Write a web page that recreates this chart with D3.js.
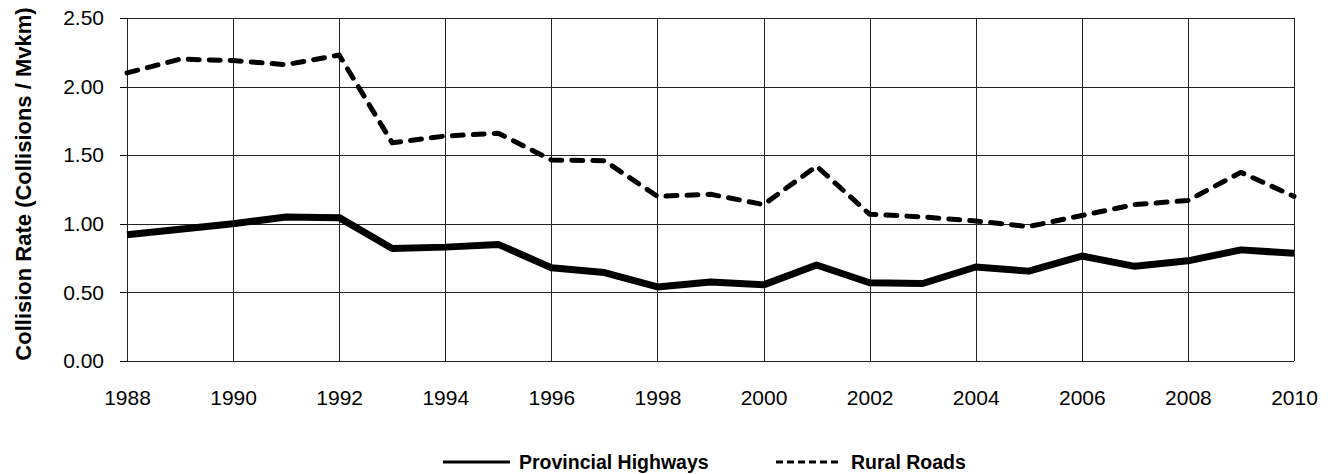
<!DOCTYPE html>
<meta charset="utf-8">
<head>
<title>Collision Rate</title>
<script src="https://d3js.org/d3.v7.min.js"></script>
</head>
<style>
  body { margin: 0; background: #fff; font-family: "Liberation Sans", Arial, Helvetica, sans-serif; }
  svg { display: block; }
  .grid line { stroke: #222; stroke-width: 1; shape-rendering: crispEdges; }
  .axis text { font-size: 21px; fill: #000; }
  .axis path, .axis line { stroke: #000; shape-rendering: crispEdges; }
  .legend text { font-size: 19.5px; font-weight: bold; }
</style>
<body>
<script>
  // values
  var years = [1988, 1989, 1990, 1991, 1992, 1993, 1994, 1995, 1996, 1997, 1998, 1999,
               2000, 2001, 2002, 2003, 2004, 2005, 2006, 2007, 2008, 2009, 2010];
  var highways = [0.92, 0.96, 1.00, 1.05, 1.045, 0.82, 0.83, 0.85, 0.68, 0.645, 0.54, 0.575,
                  0.555, 0.70, 0.57, 0.565, 0.685, 0.655, 0.765, 0.69, 0.73, 0.81, 0.785];
  var rural = [2.10, 2.20, 2.19, 2.16, 2.23, 1.59, 1.64, 1.66, 1.465, 1.46, 1.20, 1.215,
               1.14, 1.42, 1.07, 1.05, 1.02, 0.98, 1.06, 1.14, 1.17, 1.375, 1.20];
  var yTicks = [0, 0.5, 1.0, 1.5, 2.0, 2.5];
  var xTicks = d3.range(1988, 2011, 2);
  var seriesNames = ["Provincial Highways", "Rural Roads"];

  var width = 1331, height = 474;
  var margin = {top: 18, right: 37, bottom: 113, left: 127};
  var w = width - margin.left - margin.right,
      h = height - margin.top - margin.bottom;

  var svg = d3.select("body").append("svg")
    .attr("width", width)
    .attr("height", height);

  var g = svg.append("g")
    .attr("transform", "translate(" + margin.left + "," + margin.top + ")");

  var x = d3.scaleLinear().domain([1988, 2010]).range([0, w]);
  var y = d3.scaleLinear().domain([0, 2.5]).range([h, 0]);

  // grid
  var grid = g.append("g").attr("class", "grid");
  grid.selectAll(".h").data(yTicks).enter().append("line")
    .attr("x1", 0).attr("x2", w)
    .attr("y1", function(d) { return Math.round(y(d)) + 0.5; })
    .attr("y2", function(d) { return Math.round(y(d)) + 0.5; });
  grid.selectAll(".v").data(xTicks).enter().append("line")
    .attr("y1", 0).attr("y2", h)
    .attr("x1", function(d) { return Math.round(x(d)) + 0.5; })
    .attr("x2", function(d) { return Math.round(x(d)) + 0.5; });

  // axes
  var yAxis = g.append("g").attr("class", "axis")
    .call(d3.axisLeft(y).tickValues(yTicks).tickFormat(d3.format(".2f")).tickSize(7).tickPadding(16));
  yAxis.select(".domain").remove();

  var xAxis = g.append("g").attr("class", "axis")
    .attr("transform", "translate(0," + h + ")")
    .call(d3.axisBottom(x).tickValues(xTicks).tickFormat(d3.format("d")).tickSize(0).tickPadding(29));
  xAxis.select(".domain").remove();

  // y title
  svg.append("text")
    .attr("transform", "translate(31,184) rotate(-90)")
    .attr("text-anchor", "middle")
    .style("font-size", "22px")
    .style("font-weight", "bold")
    .text("Collision Rate (Collisions / Mvkm)");

  var line = d3.line()
    .x(function(d, i) { return x(years[i]); })
    .y(function(d) { return y(d); });

  g.append("path")
    .datum(rural)
    .attr("d", line)
    .attr("fill", "none")
    .attr("stroke", "#000")
    .attr("stroke-width", 5)
    .attr("stroke-linecap", "round")
    .attr("stroke-linejoin", "round")
    .attr("stroke-dasharray", "11,10");

  g.append("path")
    .datum(highways)
    .attr("d", line)
    .attr("fill", "none")
    .attr("stroke", "#000")
    .attr("stroke-width", 7)
    .attr("stroke-linejoin", "round");

  // legend
  var legend = svg.append("g").attr("class", "legend");
  var lg = [
    {name: seriesNames[0], x0: 443, x1: 510, dash: null},
    {name: seriesNames[1], x0: 776, x1: 842, dash: "7,4"}
  ];
  lg.forEach(function(d) {
    legend.append("line")
      .attr("x1", d.x0).attr("x2", d.x1)
      .attr("y1", 462).attr("y2", 462)
      .attr("stroke", "#000")
      .attr("stroke-width", 3)
      .attr("stroke-dasharray", d.dash);
    legend.append("text")
      .attr("x", d.x1 + 9)
      .attr("y", 469)
      .text(d.name);
  });
</script>
</body>
